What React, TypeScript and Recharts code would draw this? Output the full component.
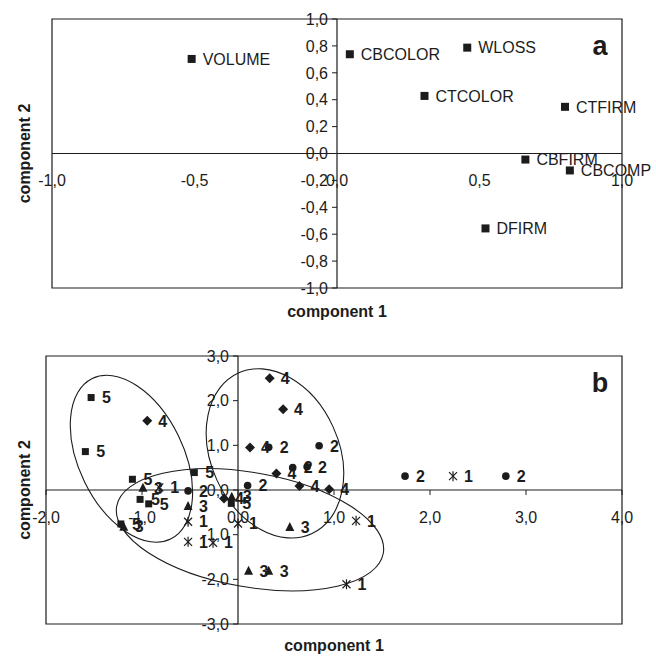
import { ReferenceArea, ReferenceDot, ReferenceLine, Scatter, ScatterChart, XAxis, YAxis } from "recharts"

const font = "'Liberation Sans', Arial, Helvetica, sans-serif"
const ink = "#1c1c1c"

// panel a: variable loadings
const variables = ["VOLUME", "CBCOLOR", "WLOSS", "CTCOLOR", "CTFIRM", "CBFIRM", "CBCOMP", "DFIRM"]
const loading1 = [-0.51, 0.045, 0.457, 0.307, 0.8, 0.661, 0.817, 0.521]
const loading2 = [0.703, 0.738, 0.787, 0.428, 0.347, -0.045, -0.126, -0.557]
const loadTicksX = [-1, -0.5, 0, 0.5, 1]
const loadTicksY = [1, 0.8, 0.6, 0.4, 0.2, 0, -0.2, -0.4, -0.6, -0.8, -1]

// panel b: sample scores, one pair of arrays per group
const group1X = [-0.82, -0.52, -0.52, -0.26, 0.0, 1.23, 1.13, 2.24]
const group1Y = [0.06, -0.71, -1.16, -1.18, -0.75, -0.69, -2.11, 0.31]
const group2X = [0.32, 0.845, 0.57, 0.72, 0.1, -0.52, 1.74, 2.79]
const group2Y = [0.955, 0.99, 0.5, 0.52, 0.1, -0.02, 0.31, 0.31]
const group3X = [-0.99, -0.52, -0.065, 0.54, 0.11, 0.32, -1.19]
const group3Y = [0.05, -0.36, -0.15, -0.83, -1.81, -1.81, -0.82]
const group4X = [0.33, 0.47, -0.945, 0.125, 0.4, 0.64, 0.95, -0.146]
const group4Y = [2.5, 1.81, 1.55, 0.95, 0.37, 0.09, 0.015, -0.19]
const group5X = [-1.53, -1.59, -1.1, -0.455, -1.02, -0.93, -1.22, -0.07]
const group5Y = [2.07, 0.86, 0.24, 0.39, -0.21, -0.31, -0.76, -0.3]
const scoreTicksX = [-2, -1, 0, 1, 2, 3, 4]
const scoreTicksY = [3, 2, 1, 0, -1, -2, -3]

// hand-drawn group ellipses (centre, semi-axes in data units, tilt in degrees)
const ellipseX = [-1.11, 0.385, 0.125]
const ellipseY = [0.7, 0.82, -0.89]
const ellipseRx = [0.93, 0.92, 1.41]
const ellipseRy = [1.17, 1.43, 1.28]
const ellipseTilt = [64, 65.5, 10]

const fmt = (v: number) => v.toFixed(1).replace(".", ",")
const pts = (xs: number[], ys: number[], label: string) => xs.map((x, i) => ({ x, y: ys[i], label }))

const loadings = variables.map((name, i) => ({ x: loading1[i], y: loading2[i], label: name }))

const label = (cx: number, cy: number, text: string, bold: boolean) => (
  <text x={cx + 11} y={cy} dy="0.36em" fontSize={16} fontWeight={bold ? 700 : 400} fontFamily={font} fill={ink}>
    {text}
  </text>
)

const square = (size: number, bold: boolean) => (p: any) => (
  <g>
    <rect x={p.cx - size / 2} y={p.cy - size / 2} width={size} height={size} fill={ink} />
    {label(p.cx, p.cy, p.payload.label, bold)}
  </g>
)

const circle = (p: any) => (
  <g>
    <circle cx={p.cx} cy={p.cy} r={3.8} fill={ink} />
    {label(p.cx, p.cy, p.payload.label, true)}
  </g>
)

const diamond = (p: any) => (
  <g>
    <path d={`M${p.cx},${p.cy - 5}L${p.cx + 5},${p.cy}L${p.cx},${p.cy + 5}L${p.cx - 5},${p.cy}Z`} fill={ink} />
    {label(p.cx, p.cy, p.payload.label, true)}
  </g>
)

const triangle = (p: any) => (
  <g>
    <path d={`M${p.cx},${p.cy - 5}L${p.cx + 4.5},${p.cy + 4}L${p.cx - 4.5},${p.cy + 4}Z`} fill={ink} />
    {label(p.cx, p.cy, p.payload.label, true)}
  </g>
)

const star = (p: any) => (
  <g>
    <g stroke={ink} strokeWidth={1.2}>
      <line x1={p.cx - 4} y1={p.cy - 4} x2={p.cx + 4} y2={p.cy + 4} />
      <line x1={p.cx - 4} y1={p.cy + 4} x2={p.cx + 4} y2={p.cy - 4} />
      <line x1={p.cx} y1={p.cy - 5} x2={p.cx} y2={p.cy + 5} />
    </g>
    {label(p.cx, p.cy, p.payload.label, true)}
  </g>
)

const xTick = (text: string, mark: boolean) => (p: any) => (
  <g>
    {mark && <line x1={p.cx} x2={p.cx} y1={p.cy} y2={p.cy + 5} stroke={ink} />}
    <text x={p.cx} y={p.cy + 27} dy="0.36em" textAnchor="middle" fontSize={16} fontFamily={font} fill={ink}>
      {text}
    </text>
  </g>
)

const yTick = (text: string) => (p: any) => (
  <g>
    <line x1={p.cx - 5} x2={p.cx} y1={p.cy} y2={p.cy} stroke={ink} />
    <text x={p.cx - 9} y={p.cy} dy="0.36em" textAnchor="end" fontSize={16} fontFamily={font} fill={ink}>
      {text}
    </text>
  </g>
)

const xTitle = (gap: number) => (p: any) => (
  <text x={p.cx} y={p.cy + gap} dy="0.36em" textAnchor="middle" fontSize={16} fontWeight={700} fontFamily={font} fill={ink}>
    component 1
  </text>
)

const yTitle = (offset: number) => (p: any) => (
  <text
    x={p.cx - offset}
    y={p.cy}
    dy="0.36em"
    textAnchor="middle"
    fontSize={16}
    fontWeight={700}
    fontFamily={font}
    fill={ink}
    transform={`rotate(-90 ${p.cx - offset} ${p.cy})`}
  >
    component 2
  </text>
)

const tag = (text: string) => (p: any) => (
  <text x={p.cx - 22} y={p.cy + 36} textAnchor="middle" fontSize={27} fontWeight={700} fontFamily={font} fill={ink}>
    {text}
  </text>
)

const ellipseShape = (tilt: number) => (p: any) => {
  const cx = p.x + p.width / 2
  const cy = p.y + p.height / 2
  return (
    <ellipse
      cx={cx}
      cy={cy}
      rx={Math.abs(p.width) / 2}
      ry={Math.abs(p.height) / 2}
      transform={`rotate(${tilt} ${cx} ${cy})`}
      fill="none"
      stroke={ink}
      strokeWidth={1.1}
    />
  )
}

function frame(xd: number[], yd: number[], xt: number[], yt: number[], name: string, titleOffset: number, titleGap: number, xMarks: boolean) {
  const [x0, x1] = xd
  const [y0, y1] = yd
  return [
    <ReferenceArea key="box" x1={x0} x2={x1} y1={y0} y2={y1} fill="none" fillOpacity={0} stroke={ink} strokeWidth={1.2} ifOverflow="visible" />,
    <ReferenceLine key="vx" x={0} stroke={ink} strokeWidth={1.2} />,
    <ReferenceLine key="hy" y={0} stroke={ink} strokeWidth={1.2} />,
    ...xt.map((t) => <ReferenceDot key={`xt${t}`} x={t} y={0} r={0} ifOverflow="visible" shape={xTick(fmt(t), xMarks)} />),
    ...yt.map((t) => <ReferenceDot key={`yt${t}`} x={0} y={t} r={0} ifOverflow="visible" shape={yTick(fmt(t))} />),
    <ReferenceDot key="xtitle" x={(x0 + x1) / 2} y={y0} r={0} ifOverflow="visible" shape={xTitle(titleGap)} />,
    <ReferenceDot key="ytitle" x={x0} y={(y0 + y1) / 2} r={0} ifOverflow="visible" shape={yTitle(titleOffset)} />,
    <ReferenceDot key="tag" x={x1} y={y1} r={0} ifOverflow="visible" shape={tag(name)} />,
  ]
}

export default function App() {
  return (
    <div style={{ position: "absolute", left: 0, top: 0, width: 656, height: 656, background: "#fff" }}>
      <ScatterChart width={656} height={330} margin={{ top: 19, right: 34, bottom: 42, left: 52 }}>
        <XAxis type="number" dataKey="x" domain={[-1, 1]} hide />
        <YAxis type="number" dataKey="y" domain={[-1, 1]} hide />
        {frame([-1, 1], [-1, 1], loadTicksX, loadTicksY, "a", 28, 23, false)}
        <Scatter data={loadings} shape={square(8, false)} isAnimationActive={false} />
      </ScatterChart>
      <ScatterChart width={656} height={326} margin={{ top: 26, right: 34, bottom: 32, left: 46 }}>
        <XAxis type="number" dataKey="x" domain={[-2, 4]} hide />
        <YAxis type="number" dataKey="y" domain={[-3, 3]} hide />
        {frame([-2, 4], [-3, 3], scoreTicksX, scoreTicksY, "b", 22, 21, true)}
        {ellipseX.map((cx, i) => (
          <ReferenceArea
            key={`ell${i}`}
            x1={cx - ellipseRx[i]}
            x2={cx + ellipseRx[i]}
            y1={ellipseY[i] - ellipseRy[i]}
            y2={ellipseY[i] + ellipseRy[i]}
            ifOverflow="visible"
            shape={ellipseShape(ellipseTilt[i])}
          />
        ))}
        <Scatter data={pts(group1X, group1Y, "1")} shape={star} isAnimationActive={false} />
        <Scatter data={pts(group2X, group2Y, "2")} shape={circle} isAnimationActive={false} />
        <Scatter data={pts(group3X, group3Y, "3")} shape={triangle} isAnimationActive={false} />
        <Scatter data={pts(group4X, group4Y, "4")} shape={diamond} isAnimationActive={false} />
        <Scatter data={pts(group5X, group5Y, "5")} shape={square(7, true)} isAnimationActive={false} />
      </ScatterChart>
    </div>
  )
}
